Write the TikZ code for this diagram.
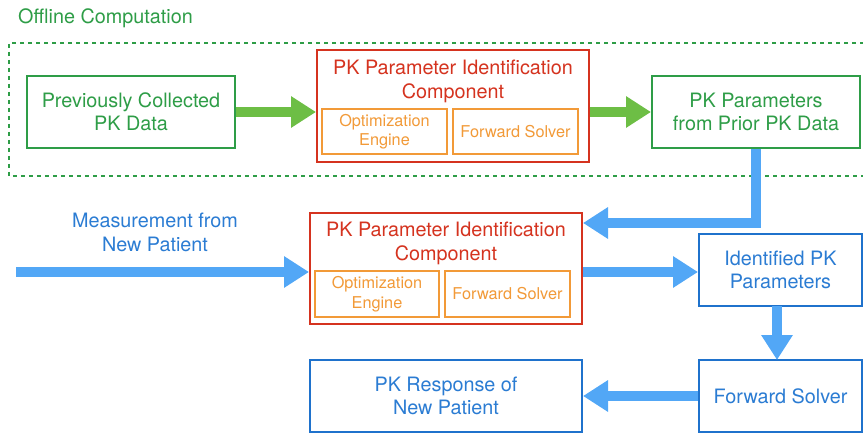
\documentclass[tikz,border=0pt]{standalone}
\usepackage{fontspec}
\setmainfont{TeX Gyre Heros}
\usetikzlibrary{arrows.meta}
\definecolor{gdark}{HTML}{2E9D47}
\definecolor{garrow}{HTML}{6DBE45}
\definecolor{rbox}{HTML}{D5331F}
\definecolor{obox}{HTML}{F29A38}
\definecolor{bbox}{HTML}{1F72CC}
\definecolor{btext}{HTML}{2B7CD3}
\definecolor{barrow}{HTML}{52A7F6}
\tikzset{
  box/.style={draw, line width=2pt, fill=white, inner sep=0pt, align=center},
  greenbox/.style={box, draw=gdark, text=gdark, font=\fontsize{19.8}{23.5}\selectfont},
  bluebox/.style={box, draw=bbox, text=btext, font=\fontsize{19.8}{23.5}\selectfont},
  redbox/.style={box, draw=rbox},
  orangebox/.style={box, draw=obox, text=obox, font=\fontsize{16.3}{19.5}\selectfont},
  redtitle/.style={text=rbox, align=center, inner sep=0pt, font=\fontsize{19.8}{24}\selectfont},
  fat/.style={line width=10pt, line join=miter, -{Triangle[length=25pt,width=30pt]}},
  garr/.style={fat, draw=garrow},
  barr/.style={fat, draw=barrow},
}
\begin{document}
\begin{tikzpicture}[x=1pt,y=-1pt]
\useasboundingbox (0,0) rectangle (863,433);
% offline region
\node[anchor=west, text=gdark, inner sep=0pt, font=\fontsize{19.8}{22}\selectfont] (offtitle) at (18,18) {Offline Computation};
\draw[gdark, line width=2pt, dash pattern=on 4pt off 4pt] (880,43) -- (9,43) -- (9,176) -- (880,176);
% nodes
\node[greenbox, minimum width=208pt, minimum height=72pt] (prev) at (131,112) {Previously Collected\\PK Data};
\node[redbox, minimum width=272pt, minimum height=112pt] (pic1) at (453,106) {};
\node[redtitle] (pic1t) at (453,81) {PK Parameter Identification\\Component};
\node[orangebox, minimum width=125pt, minimum height=45pt] (opt1) at (384.5,131.5) {Optimization\\Engine};
\node[orangebox, minimum width=125pt, minimum height=45pt] (fwd1) at (515.5,131.5) {Forward Solver};
\node[greenbox, minimum width=208pt, minimum height=72pt] (params) at (756,112) {PK Parameters\\from Prior PK Data};

\node[redbox, minimum width=272pt, minimum height=111pt] (pic2) at (446,268.5) {};
\node[redtitle] (pic2t) at (446,243) {PK Parameter Identification\\Component};
\node[orangebox, minimum width=124pt, minimum height=46pt] (opt2) at (377,294) {Optimization\\Engine};
\node[orangebox, minimum width=125pt, minimum height=46pt] (fwd2) at (507.5,294) {Forward Solver};

\node[text=btext, align=center, inner sep=0pt, font=\fontsize{19.8}{24}\selectfont] (meas) at (155,232) {Measurement from\\New Patient};
\node[bluebox, minimum width=163pt, minimum height=72pt] (ident) at (780.5,270) {Identified PK\\Parameters};
\node[bluebox, minimum width=163pt, minimum height=72pt] (fsolve) at (780.5,396) {Forward Solver};
\node[bluebox, minimum width=272pt, minimum height=72pt] (resp) at (446,396) {PK Response of\\New Patient};

% connectors
\draw[garr] (prev.east) -- (prev.east -| pic1.west);
\draw[garr] (params.west -| pic1.east) -- (params.west);
\coordinate (elbow) at (756,223);
\draw[barr] (params.south) -- (elbow) -- (elbow -| pic2.east);
\coordinate (mstart) at (16,272);
\draw[barr] (mstart) -- (mstart -| pic2.west);
\draw[barr] (pic2.east |- 0,272) -- (ident.west |- 0,272);
\draw[barr] (777,306) -- (777,360);
\draw[barr] (fsolve.west) -- (resp.east);
\end{tikzpicture}
\end{document}
